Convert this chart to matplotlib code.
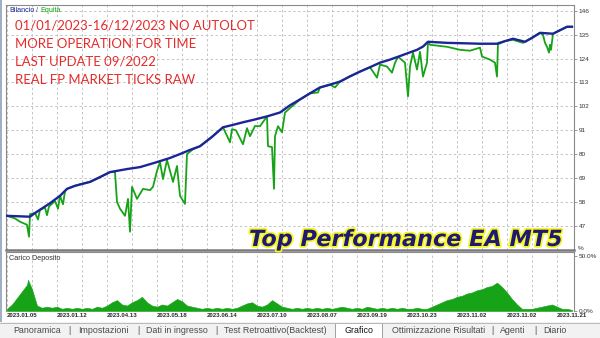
import numpy as np
import matplotlib
matplotlib.use("Agg")
import matplotlib.pyplot as plt
import matplotlib.patheffects as pe
from matplotlib.patches import Rectangle

# ---------------- data ----------------
balance_t = [7, 30, 35, 40, 50, 60, 67, 75, 90, 100, 110, 127, 140, 157, 170, 180, 190, 200,
             212, 223, 233, 243, 255, 267, 280, 290, 300, 310, 320, 330, 340, 350, 360, 370,
             380, 390, 398, 408, 417, 423, 428, 447, 465, 480, 498, 505, 513, 525, 532, 540,
             553, 560, 567, 572]
balance_v = [51.7, 51.3, 53, 54.5, 57.5, 60.9, 64.1, 65.5, 67.3, 69.5, 71.8, 73.2, 74.1, 76.4,
             78.3, 80.1, 82, 83.7, 88, 92.4, 93.5, 94.7, 96, 97.4, 99.2, 102.5, 105.2, 108,
             110.7, 112, 113.4, 115.8, 118, 120, 122.1, 123.5, 124.8, 126.5, 128, 129.5, 131.7,
             131.2, 131, 130.8, 130.8, 132, 133.1, 131.7, 133.5, 135.8, 135.4, 137, 138.6, 138.6]

equity_t = [7, 15, 20, 27, 29, 30, 35, 38, 40, 45, 47, 49, 55, 58, 60, 63, 65, 67, 75, 85, 90,
            100, 110, 115, 117, 120, 125, 128, 130, 132, 137, 143, 150, 153, 157, 160, 163, 167,
            173, 177, 180, 185, 187, 193, 200, 212, 223, 230, 232, 236, 243, 247, 250, 255, 260,
            267, 268, 272, 274, 275, 278, 282, 285, 292, 300, 310, 318, 320, 330, 335, 340, 350,
            360, 370, 377, 380, 387, 392, 395, 398, 405, 408, 410, 413, 417, 420, 423, 427, 428,
            430, 447, 460, 470, 480, 482, 490, 495, 497, 498, 505, 513, 523, 532, 540, 543, 545,
            547, 549, 550, 551, 553, 560, 567, 572]
equity_v = [51.7, 50.5, 49, 47.6, 42.1, 52.5, 53, 50, 54.5, 55.5, 52, 56, 58.5, 55, 60.9, 57, 63,
            64.1, 65.5, 66.8, 67.3, 69.5, 71.8, 71.8, 58.1, 55, 51.7, 59.5, 44.4, 65, 59.5, 64.1,
            63.5, 65, 72.3, 76.4, 68.6, 77.4, 67.3, 74.6, 60.9, 57.2, 80.1, 82.3, 83.7, 88, 92.4,
            85.5, 91.5, 91, 84.6, 92, 88.3, 93, 92.9, 97.4, 83.7, 83.3, 64.1, 88.3, 92.9, 90.1,
            99.2, 102, 105.2, 108, 108.4, 110.7, 112, 110.7, 113.4, 115.8, 118, 120, 115.2, 121.2,
            120.3, 117.5, 122, 124.8, 122.1, 106.6, 120.3, 126.7, 118.9, 127.1, 115.7, 122.1,
            131.7, 130.3, 129.4, 128, 127.6, 129, 124.9, 123.5, 122.1, 115.7, 131.2, 132, 132.6,
            131.2, 133.5, 135.8, 134.9, 131.2, 129.4, 126.7, 130.3, 128, 135.4, 137, 138.6, 138.6]

load_pct = [2, 6, 12, 18, 24, 20, 5, 3, 4, 3, 4, 2, 3, 2, 3, 2, 3, 2, 4, 3, 5, 8, 10, 6, 5, 8,
            10, 13, 8, 5, 4, 6, 5, 8, 11, 9, 5, 4, 3, 2, 3, 2, 3, 2, 3, 2, 3, 5, 7, 8, 5, 4, 6,
            10, 7, 4, 3, 2, 3, 2, 3, 2, 3, 2, 3, 2, 3, 4, 3, 2, 3, 2, 4, 3, 2, 3, 2, 3, 2, 3, 2,
            2, 3, 2, 2, 4, 6, 8, 10, 11, 13, 14, 16, 17, 19, 20, 22, 23, 26, 22, 17, 11, 6, 2, 2,
            2, 3, 4, 5, 6, 4, 2, 2, 1]
load_peak_t = 28
load_peak_v = 28.6

y_ticks = [47, 58, 69, 80, 91, 102, 113, 124, 135, 146]
x_labels = ["2023.01.05", "2023.01.12", "2023.04.13", "2023.05.18", "2023.06.14",
            "2023.07.10", "2023.08.07", "2023.09.19", "2023.10.23", "2023.11.02",
            "2023.11.02", "2023.11.21"]

info_lines = ["01/01/2023-16/12/2023 NO AUTOLOT", "MORE OPERATION FOR TIME",
              "LAST UPDATE 09/2022", "REAL FP MARKET TICKS RAW"]
tabs = ["Panoramica", "Impostazioni", "Dati in ingresso", "Test Retroattivo(Backtest)",
        "Grafico", "Ottimizzazione Risultati", "Agenti", "Diario"]

# ---------------- figure ----------------
W, H = 600, 338
fig = plt.figure(figsize=(6, 3.38), dpi=100)
fig.patch.set_facecolor("white")

def fx(px):
    return px / W

def fy(py):
    return 1 - py / H

BLUE = "#1c2598"
GREEN = "#17a317"
GRID = "#c4c4c4"
SPINE = "#8a8a8a"
TXT = "#333333"

ax = fig.add_axes([fx(6), fy(250), (574 - 6) / W, (250 - 5) / H])
ax2 = fig.add_axes([fx(6), fy(311), (574 - 6) / W, (311 - 252) / H])

grid_x = np.arange(7, 574, 25)

# main panel
ax.plot(equity_t, equity_v, color=GREEN, lw=1.3, zorder=3)
ax.plot(balance_t, balance_v, color=BLUE, lw=1.7, zorder=4)
ax.set_xlim(6, 574)
ax.set_ylim(36, 148.6)
ax.set_xticks(grid_x)
ax.set_xticklabels([])
ax.set_yticks(y_ticks)
ax.yaxis.tick_right()
ax.tick_params(axis="y", length=2, width=0.6, color=SPINE, pad=1.5,
               labelsize=4.6, labelcolor=TXT)
ax.tick_params(axis="x", length=0)
for lab in ax.get_yticklabels():
    lab.set_fontfamily("Liberation Sans")
ax.grid(True, color=GRID, lw=0.7, linestyle=(0, (2.5, 2.5)), zorder=0)
for s in ax.spines.values():
    s.set_color(SPINE)
    s.set_linewidth(0.8)
ax.spines["bottom"].set_linewidth(1.8)
ax.spines["bottom"].set_color("#7a7a7a")

# deposit load panel
load_t = np.linspace(7, 572, len(load_pct))
lt = list(load_t)
lv = list(load_pct)
idx = int(np.searchsorted(load_t, load_peak_t))
lt.insert(idx, load_peak_t)
lv.insert(idx, load_peak_v)
ax2.fill_between(lt, lv, 0, color=GREEN, lw=0.4, edgecolor=GREEN, zorder=3)
ax2.set_xlim(6, 574)
ax2.set_ylim(0, 54)
ax2.set_yticks([0, 50])
ax2.set_yticklabels(["0.0%", "50.0%"])
ax2.yaxis.tick_right()
ax2.tick_params(axis="y", length=2, width=0.6, color=SPINE, pad=1.5,
                labelsize=4.6, labelcolor=TXT)
for lab in ax2.get_yticklabels():
    lab.set_fontfamily("Liberation Sans")
ax2.set_xticks(grid_x)
labels = []
for i in range(len(grid_x)):
    labels.append(x_labels[i // 2] if i % 2 == 0 else "")
ax2.set_xticklabels(labels)
ax2.tick_params(axis="x", length=0, pad=1.2, labelsize=4.4, labelcolor="#2a2a2a")
for lab in ax2.get_xticklabels():
    lab.set_horizontalalignment("left")
    lab.set_fontfamily("Liberation Sans")
    lab.set_fontweight("bold")
ax2.grid(True, axis="x", color=GRID, lw=0.7, linestyle=(0, (2.5, 2.5)), zorder=0)
for s in ax2.spines.values():
    s.set_color(SPINE)
    s.set_linewidth(0.8)
ax2.spines["bottom"].set_visible(False)

# axis annotations
fig.text(fx(578), fy(249), "%", fontsize=4.6, color=TXT, family="Liberation Sans",
         va="center", ha="left")
leg_parts = [("Bilancio", BLUE), (" / ", "#555555"), ("Equità", GREEN)]
leg_texts = []
for s_, c_ in leg_parts:
    leg_texts.append(fig.text(fx(9), fy(11), s_, fontsize=5.2, color=c_,
                              family="Liberation Sans", va="center", ha="left"))
fig.text(fx(9), fy(258), "Carico Deposito", fontsize=5.2, color="#333333",
         family="Liberation Sans", va="center", ha="left")

# red info text
baselines = [29, 47.5, 65.5, 83.5]
red_texts = []
for line, b in zip(info_lines, baselines):
    red_texts.append(fig.text(fx(15), fy(b), line, fontsize=10.5, color="#e52b2b",
                              family="Lato", va="baseline", ha="left"))

# brand text
brand = fig.text(fx(249), fy(246), "Top Performance EA MT5", fontsize=17,
                 color="#1e1a72", family="DejaVu Sans", weight="bold", style="italic",
                 va="baseline", ha="left", zorder=10,
                 path_effects=[pe.withStroke(linewidth=2.6, foreground="#f5f52a")])

# fit widths / positions
fig.canvas.draw()
r = fig.canvas.get_renderer()
w0 = red_texts[0].get_window_extent(r).width
scale = 242.0 / w0
for t in red_texts:
    t.set_fontsize(10.5 * scale)
wb = brand.get_window_extent(r).width
brand.set_fontsize(17 * 314.0 / wb)
xpos = 9.0
for t in leg_texts:
    t.set_x(fx(xpos))
    xpos += t.get_window_extent(r).width

# tab bar
fig.patches.append(Rectangle((0, 0), 1, fy(322), transform=fig.transFigure,
                             facecolor="#f2f2f2", edgecolor="none", zorder=0))
fig.lines.append(plt.Line2D([0, 1], [fy(322.5), fy(322.5)], transform=fig.transFigure,
                            color="#b8b8b8", lw=0.7))
fig.patches.append(Rectangle((fx(335), 0), (382 - 335) / W, fy(322.5),
                             transform=fig.transFigure, facecolor="white",
                             edgecolor="#a0a0a0", lw=0.7, zorder=1))
tab_centers = [37, 103, 177, 275, 359, 439, 513, 555]
seps = [69, 138, 216, 492, 535]
for name, c in zip(tabs, tab_centers):
    fig.text(fx(c), fy(330.5), name, fontsize=6.4,
             color="#4a4a4a" if name != "Grafico" else "#111111",
             family="Liberation Sans", ha="center", va="center", zorder=3)
for s in seps:
    fig.text(fx(s), fy(330.5), "|", fontsize=6.4, color="#555555",
             family="Liberation Sans", ha="center", va="center")

# window edge at left
fig.patches.append(Rectangle((0, fy(322)), fx(2.2), 1 - fy(322), transform=fig.transFigure,
                             facecolor="#9fb0c4", edgecolor="none", zorder=0))

fig.savefig("out.png", dpi=100, facecolor="white")
